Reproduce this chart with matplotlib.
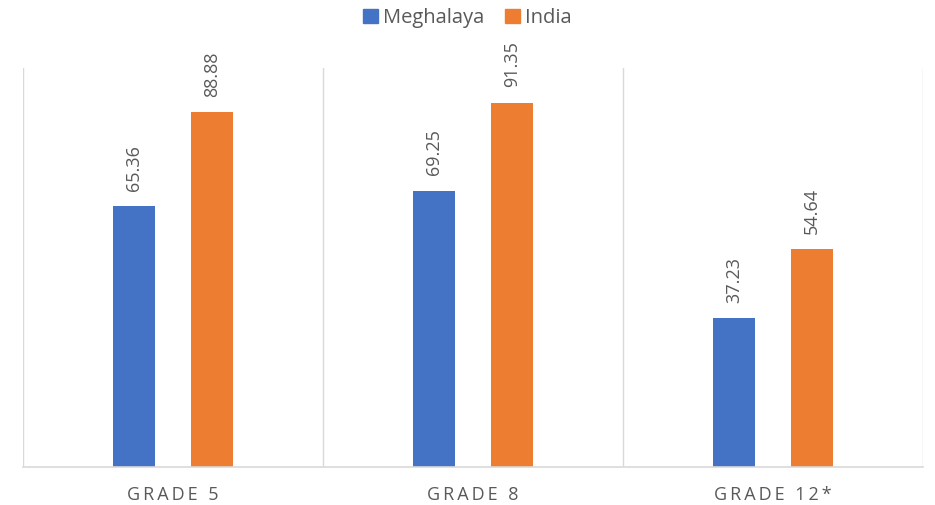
import matplotlib.pyplot as plt
import numpy as np
from matplotlib.patches import Patch

# Data
categories = ["GRADE 5", "GRADE 8", "GRADE 12*"]
meghalaya = [65.36, 69.25, 37.23]
india = [88.88, 91.35, 54.64]

blue = "#4472C4"
orange = "#ED7D31"
grid_color = "#D9D9D9"
text_color = "#595959"

plt.rcParams['font.family'] = ['Open Sans', 'DejaVu Sans']

fig = plt.figure(figsize=(9.35, 5.05), dpi=100)
ax = fig.add_axes([23 / 935, 1 - 467 / 505, 900 / 935, 399 / 505])

x = np.arange(len(categories))
width = 0.137
offset = 0.13

b1 = ax.bar(x - offset, meghalaya, width, color=blue)
b2 = ax.bar(x + offset, india, width, color=orange)

# value labels, rotated
for bars, vals in ((b1, meghalaya), (b2, india)):
    for bar, v in zip(bars, vals):
        ax.annotate(f"{v:.2f}", (bar.get_x() + bar.get_width() / 2, v),
                    xytext=(0, 11), textcoords="offset points",
                    rotation=90, ha="center", va="bottom",
                    fontsize=13, color=text_color)

ax.set_xlim(-0.5, 2.5)
ax.set_ylim(0, 100)

# separators between categories
for xv in (-0.5, 0.5, 1.5, 2.5):
    ax.axvline(xv, color=grid_color, lw=1, zorder=0)

for s in ("top", "left", "right"):
    ax.spines[s].set_visible(False)
ax.spines["bottom"].set_color(grid_color)
ax.spines["bottom"].set_linewidth(1.2)

ax.set_yticks([])
ax.set_xticks(x)
spaced = ["\u2009".join(c) for c in categories]
ax.set_xticklabels(spaced, fontsize=13, color=text_color)
ax.tick_params(axis="x", length=0, pad=14)

handles = [Patch(color=blue, label="Meghalaya"), Patch(color=orange, label="India")]
fig.legend(handles=handles, loc="center", bbox_to_anchor=(0.5, 1 - 18 / 505),
           ncol=2, frameon=False, fontsize=14.5, handlelength=0.75, handleheight=0.75,
           handletextpad=0.25, columnspacing=1.0, labelcolor=text_color)

fig.savefig("out.png", dpi=100)
